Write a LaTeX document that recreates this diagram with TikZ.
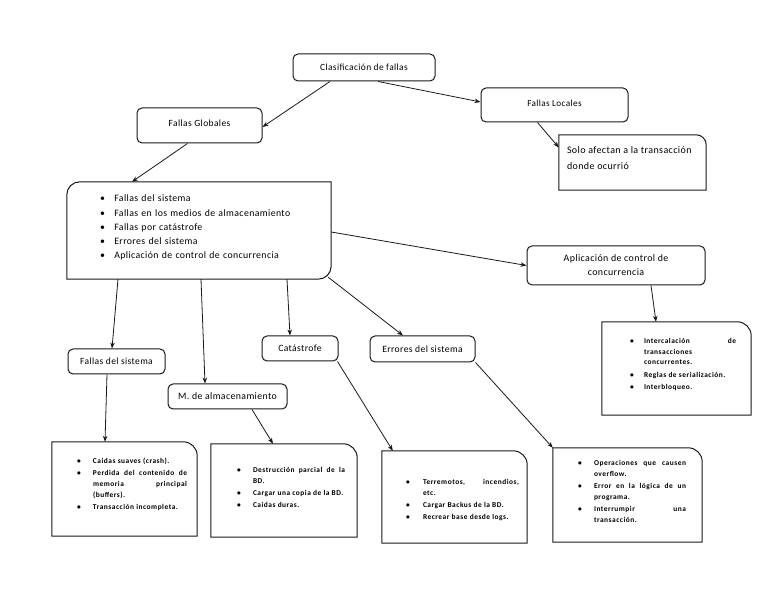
\documentclass[tikz,border=0pt]{standalone}
\usepackage{fontspec}
\setmainfont{Carlito}
\newfontfamily\lsfont[LetterSpace=4]{Carlito}
\newfontfamily\lsbfont[LetterSpace=7]{Carlito}
\usetikzlibrary{arrows.meta}
\newcommand\trshape[2]{\draw[boxline] (#1.south west) -- (#1.north west) -- ([xshift=-#2]#1.north east) arc[start angle=90,end angle=0,radius=#2] -- (#1.south east) -- cycle;}
\newcommand\lbul[1]{\hangindent=#1\hangafter=1\noindent\makebox[#1][l]{\textbullet}}
\newcommand\fs[2]{\fontsize{#1}{#2}\lsfont}
\begin{document}
\begin{tikzpicture}[x=1pt,y=1pt,
  boxline/.style={line width=1pt, draw=black!90},
  lbl/.style={draw=black!90, line width=1pt, rounded corners=5pt, inner sep=0pt, align=center},
  blank/.style={draw=none, inner sep=0pt},
  leaft/.style={anchor=north west, inner sep=0pt, align=justify, font=\fontsize{7.4}{11}\lsbfont\bfseries},
  arr/.style={-{Stealth[length=6pt,width=4.5pt]}, line width=0.8pt, draw=black!90}]
\useasboundingbox (0,0) rectangle (768,594);
\fill[white] (0,0) rectangle (768,594);

% label boxes
\node[lbl, minimum width=142pt, minimum height=27pt, font=\fs{9.4}{11}] (clas) at (364,526.5) {Clasificación de fallas};
\node[lbl, minimum width=147pt, minimum height=34pt, font=\fs{9.2}{11}] (loc) at (554.5,489) {\raisebox{3pt}{Fallas Locales}};
\node[lbl, minimum width=125pt, minimum height=35pt, font=\fs{9.5}{11}] (glob) at (199.5,468.5) {\raisebox{4pt}{Fallas Globales}};
\node[lbl, minimum width=178pt, minimum height=39pt, font=\fs{9.9}{14}] (aplic) at (616,328.5) {Aplicación de control de\\concurrencia};
\node[lbl, minimum width=97pt, minimum height=25pt, font=\fs{9.5}{12}] (fsis) at (116.5,232.5) {Fallas del sistema};
\node[lbl, minimum width=119pt, minimum height=25pt, font=\fs{9.8}{12}] (malm) at (227.5,197.5) {M. de almacenamiento};
\node[lbl, minimum width=76pt, minimum height=25pt, font=\fs{9.6}{12}] (cat) at (300,245.5) {Catástrofe};
\node[lbl, minimum width=105pt, minimum height=26pt, font=\fs{9.6}{12}] (err) at (422.5,245) {Errores del sistema};

% shaped boxes
\node[blank, minimum width=147pt, minimum height=55pt] (solo) at (632.5,431.5) {};
\node[blank, minimum width=264pt, minimum height=97pt] (main) at (199,363.5) {};
\node[blank, minimum width=149pt, minimum height=93pt] (inter) at (676.5,225.5) {};
\node[blank, minimum width=145pt, minimum height=94pt] (b1) at (124.5,105) {};
\node[blank, minimum width=146pt, minimum height=93pt] (b2) at (284,103.5) {};
\node[blank, minimum width=145pt, minimum height=92pt] (b3) at (454.5,97) {};
\node[blank, minimum width=149pt, minimum height=94pt] (b4) at (627.5,99) {};

\trshape{solo}{10pt}
\trshape{inter}{14pt}
\trshape{b1}{14pt}
\trshape{b2}{14pt}
\trshape{b3}{14pt}
\trshape{b4}{14pt}
\draw[boxline] (main.south west) -- ([yshift=-13pt]main.north west) arc[start angle=180,end angle=90,radius=13pt] -- (main.north east) -- ([yshift=13pt]main.south east) arc[start angle=0,end angle=-90,radius=13pt] -- cycle;

% texts
\node[anchor=north west, inner sep=0pt, align=left, font=\fs{10}{15.6}] (solot) at ([xshift=8pt,yshift=-12pt]solo.north west) {Solo afectan a la transacción\\donde ocurrió};
\node[anchor=north west, inner sep=0pt, text width=225pt, align=left, font=\fs{9.8}{14.25}] (maint) at ([xshift=33pt,yshift=-13pt]main.north west) {%
\lbul{14.3pt}Fallas del sistema\par
\lbul{14.3pt}Fallas en los medios de almacenamiento\par
\lbul{14.3pt}Fallas por catástrofe\par
\lbul{14.3pt}Errores del sistema\par
\lbul{14.3pt}Aplicación de control de concurrencia\par};

\node[leaft, text width=106pt, font=\fontsize{7.4}{10.5}\lsbfont\bfseries] (intert) at ([xshift=28pt,yshift=-16.5pt]inter.north west) {\setlength{\parskip}{2pt}%
\lbul{14pt}Intercalación de\linebreak transacciones\newline concurrentes.\par
\lbul{14pt}Reglas de serialización.\par
\lbul{14pt}Interbloqueo.\par};

\node[leaft, text width=110pt] (b1t) at ([xshift=25pt,yshift=-16.5pt]b1.north west) {\setlength{\parskip}{1pt}%
\lbul{16pt}Caidas suaves (crash).\par
\lbul{16pt}Perdida del contenido de\linebreak memoria principal\linebreak (buffers).\par
\lbul{16pt}Transacción incompleta.\par};

\node[leaft, text width=108pt] (b2t) at ([xshift=26pt,yshift=-23pt]b2.north west) {\setlength{\parskip}{1pt}%
\lbul{16pt}Destrucción parcial de la\linebreak BD.\par
\lbul{16pt}Cargar una copia de la BD.\par
\lbul{16pt}Caidas duras.\par};

\node[leaft, text width=113pt] (b3t) at ([xshift=24pt,yshift=-28pt]b3.north west) {\setlength{\parskip}{1pt}%
\lbul{17pt}Terremotos, incendios,\linebreak etc.\par
\lbul{17pt}Cargar Backus de la BD.\par
\lbul{17pt}Recrear base desde logs.\par};

\node[leaft, text width=108pt] (b4t) at ([xshift=25pt,yshift=-12pt]b4.north west) {\setlength{\parskip}{1pt}%
\lbul{16pt}Operaciones que causen\linebreak overflow.\par
\lbul{16pt}Error en la lógica de un\linebreak programa.\par
\lbul{16pt}Interrumpir una\linebreak transacción.\par};

% connectors
\draw[arr] ([xshift=-34pt]clas.south) -- ([yshift=-1.5pt]glob.east);
\draw[arr] ([xshift=14pt]clas.south) -- ([yshift=3pt]loc.west);
\draw[arr] ([xshift=-17pt]loc.south) -- ([yshift=15pt]solo.west);
\draw[arr] ([xshift=-12pt]glob.south) -- ([xshift=-67pt]main.north);
\draw[arr] ([yshift=-1.5pt]main.east) -- (aplic.west);
\draw[arr] ([xshift=-81pt]main.south) -- ([xshift=-4.5pt]fsis.north);
\draw[arr] ([xshift=2pt]main.south) -- ([xshift=-22.5pt]malm.north);
\draw[arr] ([xshift=88pt]main.south) -- ([xshift=-10pt]cat.north);
\draw[arr] ([xshift=-3pt,yshift=2pt]main.south east) -- ([xshift=-19.5pt]err.north);
\draw[arr] ([xshift=35pt]aplic.south) -- ([xshift=-20.5pt]inter.north);
\draw[arr] ([xshift=-9.5pt]fsis.south) -- ([xshift=-19.5pt]b1.north);
\draw[arr] ([xshift=24.5pt]malm.south) -- ([xshift=-11pt]b2.north);
\draw[arr] ([xshift=-1pt]cat.south east) -- ([xshift=11pt]b3.north west);
\draw[arr] (err.south east) -- (b4.north west);
\end{tikzpicture}
\end{document}
